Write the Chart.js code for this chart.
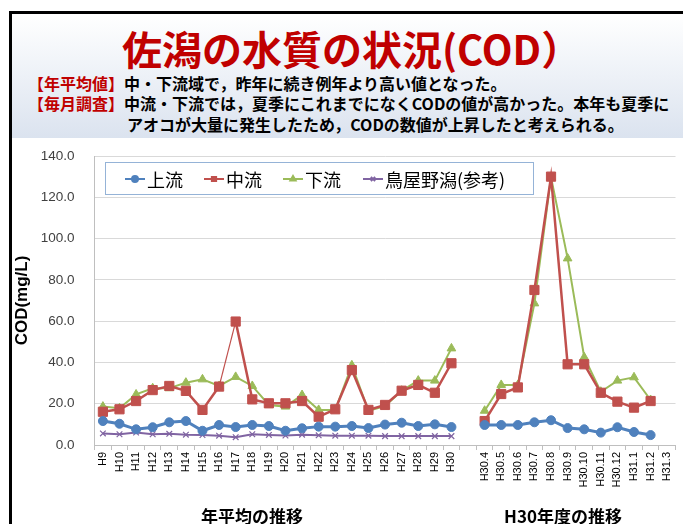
<!DOCTYPE html>
<html><head><meta charset="utf-8">
<script src="https://cdn.jsdelivr.net/npm/chart.js@4"></script>
<style>
html,body{margin:0;padding:0;background:#fff;width:683px;height:524px;overflow:hidden;font-family:"Noto Sans CJK JP",sans-serif;}
#frameTop{position:absolute;left:9px;top:11px;width:674px;height:3px;background:#000;}
#frameLeft{position:absolute;left:9px;top:11px;width:3px;height:513px;background:#000;}
#panel{position:absolute;left:12px;top:14px;width:671px;height:124px;background:linear-gradient(#ffffff,#dbe3ef);}
#title{position:absolute;left:122px;top:28px;font-size:40px;line-height:40px;font-weight:bold;color:#c00000;white-space:nowrap;}
.sub{position:absolute;font-size:16px;line-height:20px;font-weight:bold;color:#000;white-space:nowrap;}
.red{color:#c00000;}
#wrap{position:absolute;left:0;top:140px;width:683px;height:384px;}
.cap{position:absolute;font-size:17px;font-weight:bold;line-height:20px;white-space:nowrap;transform:translateX(-50%);}
</style>
</head><body>
<div id="panel"></div>
<div id="frameTop"></div>
<div id="frameLeft"></div>
<div id="title">佐潟の水質の状況(COD）</div>
<div class="sub" style="left:28px;top:73px;"><span class="red">【年平均値】</span>中・下流域で，昨年に続き例年より高い値となった。</div>
<div class="sub" style="left:28px;top:93px;"><span class="red">【毎月調査】</span>中流・下流では，夏季にこれまでになくCODの値が高かった。本年も夏季に</div>
<div class="sub" style="left:127px;top:114px;">アオコが大量に発生したため，CODの数値が上昇したと考えられる。</div>
<div id="wrap"><canvas id="c" width="683" height="384"></canvas></div>
<div class="cap" style="left:252px;top:506px;">年平均の推移</div>
<div class="cap" style="left:563px;top:506px;">H30年度の推移</div>
<script>
const annualLabels = ['H9','H10','H11','H12','H13','H14','H15','H16','H17','H18','H19','H20','H21','H22','H23','H24','H25','H26','H27','H28','H29','H30'];
const monthlyLabels = ['H30.4','H30.5','H30.6','H30.7','H30.8','H30.9','H30.10','H30.11','H30.12','H31.1','H31.2','H31.3'];
const seriesNames = ['上流','中流','下流','鳥屋野潟(参考)'];

const upstreamAnnual = [11.6,10.3,7.6,8.6,11.0,11.6,6.9,9.7,8.7,9.7,9.2,6.9,8.1,8.9,8.9,9.2,8.2,9.9,10.8,9.2,10.0,8.7];
const upstreamMonthly = [9.7,9.7,9.7,11.0,12.0,8.2,7.6,6.0,8.6,6.3,4.8,null];
const midstreamAnnual = [16.1,17.3,21.3,26.6,28.6,26.2,17.0,28.3,59.8,22.1,20.2,20.2,21.3,13.7,17.3,36.3,17.0,19.4,26.3,29.1,25.3,39.6];
const midstreamMonthly = [11.6,24.7,27.9,75.1,130.0,39.1,39.1,25.3,21.0,18.1,21.3,null];
const downstreamAnnual = [18.6,17.8,24.5,27.5,27.5,30.2,31.8,28.6,33.0,28.6,19.4,18.6,24.2,17.0,17.0,38.6,16.6,18.9,26.3,31.2,31.2,46.8];
const downstreamMonthly = [16.6,29.1,29.1,68.6,129.7,90.4,42.5,25.8,31.2,32.8,21.8,null];
const toyanoAnnual = [5.6,5.2,6.0,5.2,5.4,5.0,4.8,4.5,3.8,5.2,4.9,4.6,5.0,4.7,4.5,4.5,4.5,4.3,4.3,4.3,4.3,4.3];
const toyanoMonthly = [null,null,null,null,null,null,null,null,null,null,null,null];
const yTicks = [0,20,40,60,80,100,120,140];

const categories = [...annualLabels, '', ...monthlyLabels];
const join = (a, m) => [...a, null, ...m];

const colors = ['#4f81bd','#c0504d','#9bbb59','#8064a2'];
const styles = [
  {pointStyle:'circle', radius:4.5, width:3},
  {pointStyle:'rect', radius:6.5, width:2.5},
  {pointStyle:'triangle', radius:5, width:2},
  {pointStyle:'crossRot', radius:4, width:2}
];
const dataSets = [
  join(upstreamAnnual, upstreamMonthly),
  join(midstreamAnnual, midstreamMonthly),
  join(downstreamAnnual, downstreamMonthly),
  join(toyanoAnnual, toyanoMonthly)
];

const legendPlugin = {
  id: 'boxLegend',
  afterDraw(chart) {
    const ctx = chart.ctx;
    ctx.save();
    ctx.fillStyle = '#ffffff';
    ctx.fillRect(105, 22, 428, 32);
    ctx.strokeStyle = '#95b3d7';
    ctx.lineWidth = 1;
    ctx.strokeRect(105.5, 22.5, 428, 32);
    const xs = [125, 204, 283, 363];
    ctx.font = '18px "Noto Sans CJK JP"';
    ctx.textBaseline = 'middle';
    chart.data.datasets.forEach((ds, i) => {
      const x = xs[i], y = 39;
      ctx.strokeStyle = ds.borderColor;
      ctx.lineWidth = 2;
      ctx.beginPath(); ctx.moveTo(x, y); ctx.lineTo(x + 20, y); ctx.stroke();
      ctx.fillStyle = ds.borderColor;
      Chart.helpers.drawPoint(ctx, {pointStyle: ds.pointStyle, radius: 3, rotation: 0, borderWidth: 1}, x + 10, y);
      ctx.fillStyle = '#000';
      ctx.fillText(ds.label, x + 22, y + 1);
    });
    ctx.restore();
  }
};

new Chart(document.getElementById('c'), {
  type: 'line',
  data: {
    labels: categories,
    datasets: dataSets.map((d, i) => ({
      label: seriesNames[i],
      data: d,
      borderColor: colors[i],
      backgroundColor: colors[i],
      borderWidth: styles[i].width,
      segment: i === 1 ? {borderWidth: c => (c.p0DataIndex === 7 ? 1.2 : undefined)} : undefined,
      pointStyle: styles[i].pointStyle,
      pointRadius: styles[i].radius,
      pointBorderWidth: i === 3 ? 1.2 : 1,
      pointBackgroundColor: colors[i],
      pointBorderColor: colors[i],
      tension: 0,
      spanGaps: false
    }))
  },
  options: {
    responsive: false,
    animation: false,
    layout: {padding: {top: 16, left: 0, right: 0, bottom: 0}},
    plugins: {legend: {display: false}, tooltip: {enabled: false}},
    scales: {
      x: {
        type: 'category',
        offset: true,
        afterFit(s) { s.height = 79; s.paddingTop = 0; s.paddingBottom = 0; s.paddingLeft = 0; s.paddingRight = 0; },
        grid: {offset: true, drawOnChartArea: false, drawTicks: true, tickLength: 5, color: '#bfbfbf'},
        border: {display: true, color: '#bfbfbf'},
        ticks: {autoSkip: false, maxRotation: 90, minRotation: 90, color: '#000', font: {family: 'Liberation Sans', size: 11}, padding: 2}
      },
      y: {
        min: 0, max: 140,
        afterFit(s) { s.width = 94.6; s.paddingTop = 0; s.paddingBottom = 0; s.paddingLeft = 0; s.paddingRight = 0; },
        afterBuildTicks(s) { s.ticks = yTicks.map(v => ({value: v})); },
        grid: {color: '#d9d9d9', drawTicks: false},
        border: {display: true, color: '#bfbfbf'},
        ticks: {color: '#404040', font: {family: 'Liberation Sans', size: 13.5}, padding: 20, callback: v => Number(v).toFixed(1)},
        title: {display: true, text: 'COD(mg/L)', color: '#000', font: {family: 'Liberation Sans', size: 17, weight: 'bold'}, padding: {top: 12, bottom: 0}}
      }
    }
  },
  plugins: [legendPlugin]
});
</script>
</body></html>
